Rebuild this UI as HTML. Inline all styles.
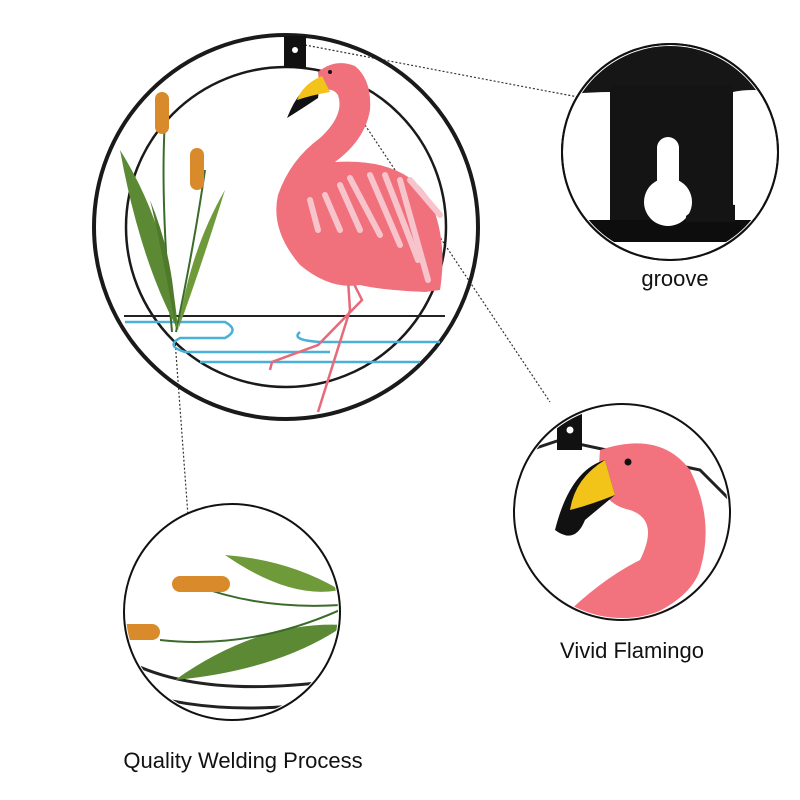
<!DOCTYPE html>
<html><head><meta charset="utf-8"><style>
html,body{margin:0;padding:0;background:#fff;width:800px;height:800px;overflow:hidden}
svg{display:block}
text{font-family:"Liberation Sans",sans-serif;fill:#111}
</style></head><body>
<svg width="800" height="800" viewBox="0 0 800 800" xmlns="http://www.w3.org/2000/svg">
<defs>
<clipPath id="c1"><circle cx="670" cy="152" r="106"/></clipPath>
<clipPath id="c2"><circle cx="622" cy="512" r="106"/></clipPath>
<clipPath id="c3"><circle cx="232" cy="612" r="106"/></clipPath>
</defs>
<g stroke="#333" stroke-width="1.2" stroke-dasharray="2,2" fill="none">
<line x1="305" y1="45" x2="578" y2="97"/>
<line x1="365" y1="125" x2="550" y2="402"/>
<line x1="175" y1="340" x2="188" y2="516"/>
</g>
<circle cx="286" cy="227" r="192" fill="none" stroke="#1a1a1a" stroke-width="4"/>
<circle cx="286" cy="227" r="160" fill="none" stroke="#1a1a1a" stroke-width="2.5"/>
<rect x="284" y="36" width="22" height="32" fill="#111"/>
<circle cx="295" cy="50" r="3" fill="#fff"/>
<line x1="124" y1="316" x2="445" y2="316" stroke="#222" stroke-width="2"/>
<g stroke="#4ab0d8" stroke-width="2.5" fill="none">
<path d="M125 322 H225 Q240 330 225 338 H180 Q165 346 185 352 H330 M300 332 Q290 340 320 342 H440 M200 362 H420"/>
</g>
<g stroke="#3a6b2a" stroke-width="2" fill="none">
<path d="M172 332 Q160 200 165 120"/><path d="M176 332 Q195 240 205 170"/>
</g>
<path d="M120 150 Q170 230 178 330 Q140 260 120 150Z" fill="#5c8a34"/>
<path d="M225 190 Q200 270 178 330 Q190 250 225 190Z" fill="#6f9a3a"/>
<path d="M176 330 Q160 240 150 200 Q175 260 176 330Z" fill="#4f7a2c"/>
<rect x="155" y="92" width="14" height="42" rx="7" fill="#d98a2a"/>
<rect x="190" y="148" width="14" height="42" rx="7" fill="#d98a2a"/>
<g stroke="#e76a7a" stroke-width="2.5" fill="none">
<path d="M352 280 L362 300 L318 345 L272 362 L270 370"/><path d="M348 280 L350 310 L318 412"/>
</g>
<path d="M318 72 Q335 58 355 66 Q372 80 370 110 Q365 140 335 162 Q405 158 430 200 Q448 240 440 290 L425 292 Q380 290 360 285 Q330 290 300 265 Q270 230 278 195 Q290 160 320 138 Q345 115 338 95 Q332 86 320 92Z" fill="#f0707c"/>
<g stroke="#f8c4cc" stroke-width="6" stroke-linecap="round" fill="none">
<path d="M310 200 L318 230"/><path d="M325 195 L340 230"/><path d="M340 185 L360 230"/><path d="M350 178 L380 235"/><path d="M370 175 L400 245"/><path d="M385 175 L418 260"/><path d="M400 180 L428 280"/><path d="M410 180 L440 215"/>
</g>
<path d="M320 80 Q300 85 287 118 Q300 110 318 98Z" fill="#111"/>
<path d="M322 76 Q303 84 297 100 Q312 95 330 92Z" fill="#f2c318"/>
<circle cx="330" cy="72" r="2" fill="#111"/>
<circle cx="670" cy="152" r="108" fill="#fff" stroke="#111" stroke-width="2"/>
<g clip-path="url(#c1)">
<path d="M560 40 H780 V92 Q750 88 733 92 H610 Q590 92 560 95Z" fill="#161616"/>
<rect x="610" y="85" width="123" height="145" fill="#141414"/>
<rect x="560" y="220" width="220" height="22" fill="#0d0d0d"/>
<circle cx="668" cy="202" r="24" fill="#fff"/>
<rect x="657" y="137" width="22" height="60" rx="11" fill="#fff"/>
<path d="M686 216 Q705 200 735 205 V222 H686Z" fill="#141414"/>
</g>
<circle cx="670" cy="152" r="108" fill="none" stroke="#111" stroke-width="2"/>
<text x="675" y="286" font-size="22" text-anchor="middle">groove</text>
<circle cx="622" cy="512" r="108" fill="#fff" stroke="#111" stroke-width="2"/>
<g clip-path="url(#c2)">
<path d="M515 455 L560 440 L700 470 L735 505" stroke="#222" stroke-width="3" fill="none"/>
<rect x="557" y="410" width="25" height="40" fill="#111"/>
<circle cx="570" cy="430" r="3.5" fill="#fff"/>
<path d="M600 450 Q660 430 690 470 Q715 520 700 570 Q690 600 640 620 L560 620 Q600 580 640 560 Q660 520 630 510 Q605 505 598 480Z" fill="#f2727e"/>
<path d="M605 460 Q570 470 555 530 Q575 545 585 520 L615 495Z" fill="#111"/>
<path d="M605 460 Q575 478 570 510 Q590 505 615 495Z" fill="#f2c318"/>
<circle cx="628" cy="462" r="3.5" fill="#111"/>
</g>
<text x="632" y="658" font-size="22" text-anchor="middle">Vivid Flamingo</text>
<circle cx="232" cy="612" r="108" fill="#fff" stroke="#111" stroke-width="2"/>
<g clip-path="url(#c3)">
<path d="M125 660 Q200 700 340 680" stroke="#222" stroke-width="3" fill="none"/>
<path d="M130 690 Q220 720 340 700" stroke="#222" stroke-width="3" fill="none"/>
<path d="M225 555 Q290 560 340 590 Q290 600 225 555Z" fill="#6f9a3a"/>
<path d="M175 680 Q260 620 345 625 Q280 670 175 680Z" fill="#5c8a34"/>
<path d="M160 640 Q250 650 340 610" stroke="#3a6b2a" stroke-width="2" fill="none"/>
<path d="M195 585 Q260 610 340 605" stroke="#3a6b2a" stroke-width="2" fill="none"/>
<rect x="172" y="576" width="58" height="16" rx="8" fill="#d98a2a"/>
<rect x="118" y="624" width="42" height="16" rx="8" fill="#d98a2a"/>
</g>
<text x="243" y="768" font-size="22" text-anchor="middle">Quality Welding Process</text>
</svg>
</body></html>
